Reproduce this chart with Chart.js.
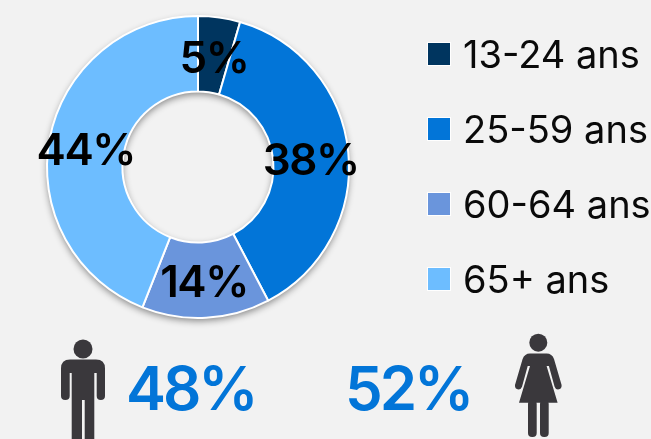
<!DOCTYPE html>
<html>
<head>
<meta charset="utf-8">
<script src="https://cdn.jsdelivr.net/npm/chart.js@4"></script>
<style>
  html, body { margin: 0; padding: 0; background: #f2f2f2; overflow: hidden; }
  #wrap { position: relative; width: 651px; height: 439px; font-family: Inter, sans-serif; }
  #ageChart { position: absolute; left: 0; top: 0; }
  .legend-row { position: absolute; left: 427px; height: 24px; }
  .legend-box { position: absolute; left: 0; top: 0; width: 24px; height: 24px; box-sizing: border-box; border: 1px solid #fff; }
  .legend-text { position: absolute; left: 36px; top: -9px; font-size: 38px; line-height: 42px; color: #0a0a0a; white-space: nowrap; }
  .stat { position: absolute; top: 352px; font-size: 60px; line-height: 72px; font-weight: 600; letter-spacing: -3px; color: #0275d8; }
  #icons { position: absolute; left: 0; top: 0; }
</style>
</head>
<body>
<div id="wrap">
  <canvas id="ageChart" width="651" height="439"></canvas>
  <svg id="icons" width="651" height="439" fill="#3a383c">
    <!-- man -->
    <circle cx="83" cy="349" r="9.5"/>
    <path d="M70 359.500H96Q105 359.500 105 368.500V396Q105 400 100.800 400Q96.700 400 96.700 396V373H94.300V445H84.700V400H82V445H71.700V373H69.700V396Q69.700 400 65.300 400Q61 400 61 396V368.500Q61 359.500 70 359.500Z"/>
    <!-- woman -->
    <circle cx="538.300" cy="342.700" r="9"/>
    <path d="M530 353.500H546.600Q552 353.500 554 359L561.600 385Q562 389 558 389.500Q555.500 389.500 554.600 386.700L548.900 366H546.600L557.600 402.700H519L530 366H527.700L522 386.700Q521 389.500 518.500 389.500Q514.600 389 515 385L522.600 359Q524.600 353.500 530 353.500Z"/>
    <rect x="528" y="400" width="8.700" height="37" rx="4"/>
    <rect x="540" y="400" width="8.700" height="37" rx="4"/>
  </svg>
  <div class="stat" style="left:126px" id="menStat"></div>
  <div class="stat" style="left:345px" id="womenStat"></div>
  <div id="legend"></div>
</div>
<script>
const ageLabels = ["13-24 ans", "25-59 ans", "60-64 ans", "65+ ans"];
const ageShares = [4.5, 37.8, 13.7, 44];
const ageColors = ["#00355f", "#0275d8", "#6a95dc", "#6dbdff"];
const menShare = 48;
const womenShare = 52;

document.getElementById('menStat').textContent = menShare + "%";
document.getElementById('womenStat').textContent = womenShare + "%";

// legend rows
let legendHtml = "";
ageLabels.forEach((label, i) => {
  legendHtml += `
  <div class="legend-row" style="top:${ 42 + i * 75 }px">
    <div class="legend-box" style="background:${ ageColors[i] }"></div>
    <div class="legend-text">${ label }</div>
  </div>
  `;
});
document.getElementById('legend').innerHTML = legendHtml;

// soft shadow under the ring, drawn once so slices don't shade each other
const ringShadow = {
  id: 'ringShadow',
  beforeDatasetsDraw(chart) {
    const arc = chart.getDatasetMeta(0).data[0];
    const c = chart.ctx;
    c.save();
    c.shadowColor = 'rgba(0,0,0,0.45)';
    c.shadowBlur = 7;
    c.shadowOffsetY = 3;
    c.fillStyle = '#ffffff';
    c.beginPath();
    c.arc(arc.x, arc.y, arc.outerRadius, 0, Math.PI * 2);
    c.arc(arc.x, arc.y, arc.innerRadius, Math.PI * 2, 0, true);
    c.fill();
    c.restore();
  }
};

// nudges from the arc middle, the original labels sit a little off
const labelNudges = [[0, 5], [0, 6], [0, 4], [-1, 6]];

const percentLabels = {
  id: 'percentLabels',
  afterDatasetsDraw(chart) {
    const c = chart.ctx;
    c.save();
    c.font = '600 44px Inter, sans-serif';
    c.letterSpacing = '-1.5px';
    c.fillStyle = '#000000';
    c.textAlign = 'center';
    c.textBaseline = 'middle';
    chart.getDatasetMeta(0).data.forEach((arc, i) => {
      const pos = arc.tooltipPosition();
      c.fillText(Math.round(ageShares[i]) + "%", pos.x + labelNudges[i][0], pos.y + labelNudges[i][1]);
    });
    c.restore();
  }
};

const ctx = document.getElementById('ageChart').getContext('2d');

const ageChart = new Chart(ctx, {
  type: 'doughnut',
  data: {
    labels: ageLabels,
    datasets: [
      {
        data: ageShares,
        backgroundColor: ageColors,
        borderColor: '#ffffff',
        borderWidth: 2,
        borderAlign: 'center'
      }
    ]
  },
  options: {
    responsive: false,
    animation: false,
    cutout: '50%',
    layout: { padding: { left: 46, top: 15, right: 301, bottom: 120 } },
    plugins: {
      legend: { display: false },
      tooltip: { enabled: false }
    }
  },
  plugins: [ringShadow, percentLabels]
});
</script>
</body>
</html>
